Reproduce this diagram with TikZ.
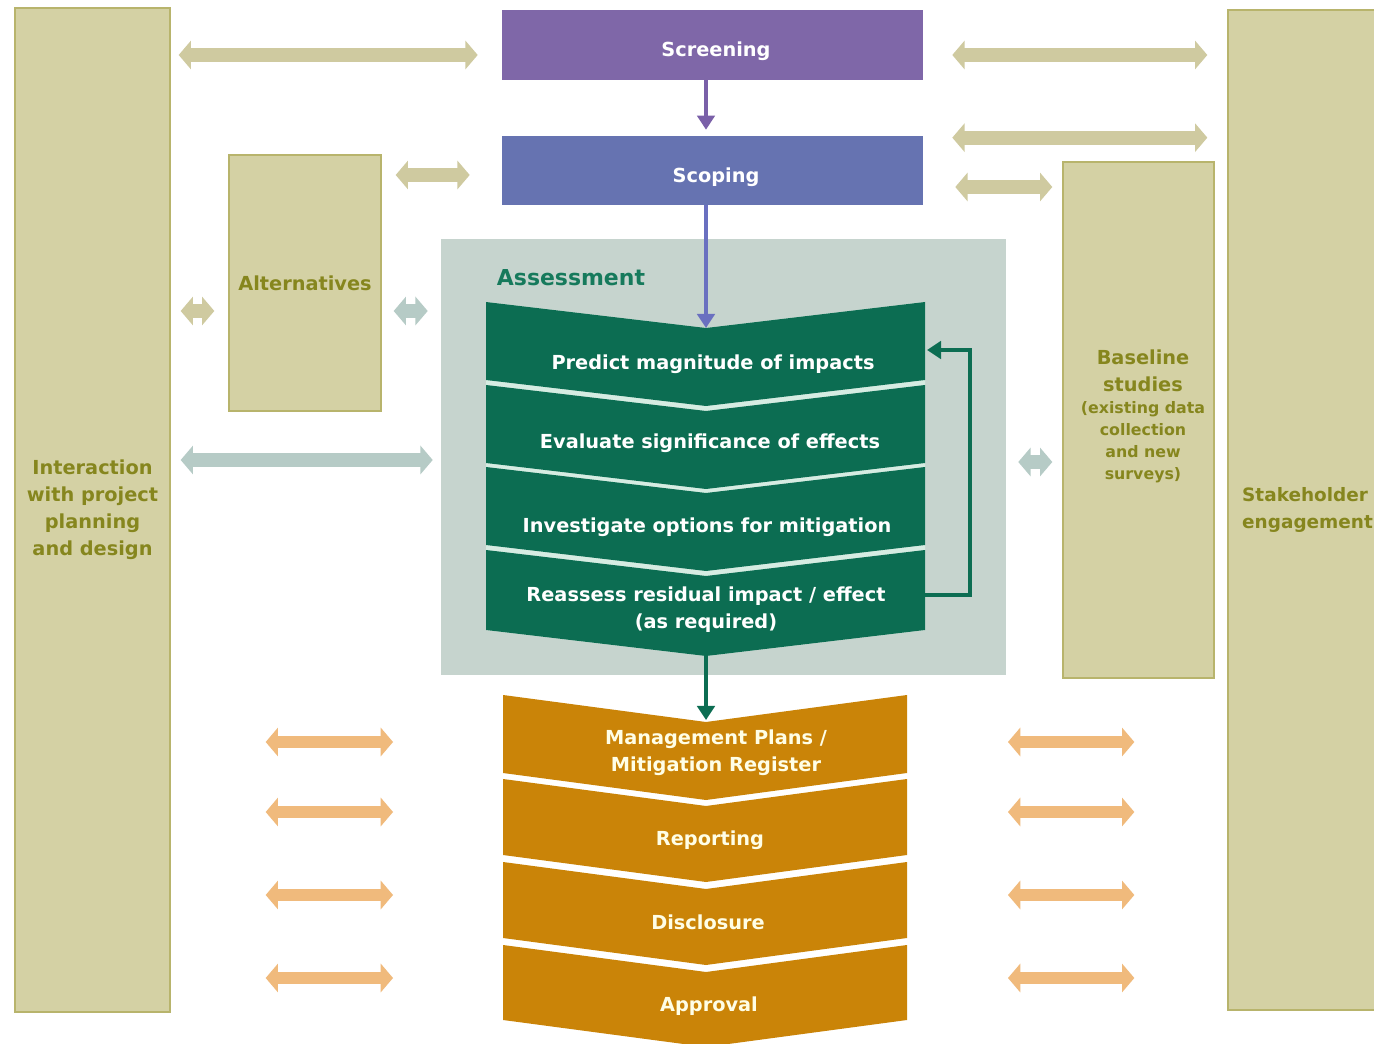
\documentclass[tikz,border=0pt]{standalone}
\usepackage{fontspec}
\setmainfont{DejaVu Sans}
\usetikzlibrary{arrows.meta, positioning}

\definecolor{boxfill}{HTML}{D4D1A4}
\definecolor{boxline}{HTML}{B8B46C}
\definecolor{olivetxt}{HTML}{86861E}
\definecolor{khaki}{HTML}{CFCAA0}
\definecolor{greyblue}{HTML}{B6CBC6}
\definecolor{asmfill}{HTML}{C6D4CE}
\definecolor{asmgreen}{HTML}{0C6D52}
\definecolor{asmsep}{HTML}{D6ECE2}
\definecolor{asmtitle}{HTML}{167A5C}
\definecolor{ochre}{HTML}{CA8408}
\definecolor{peach}{HTML}{F0BA7C}
\definecolor{scrpurple}{HTML}{7F67A8}
\definecolor{scpblue}{HTML}{6673B1}
\definecolor{arrpurple}{HTML}{7A60A8}
\definecolor{arrblue}{HTML}{6A70C0}

\begin{document}
\begin{tikzpicture}[x=0.02cm, y=-0.02cm, align=center,
  lbl/.style={font=\fontsize{11}{15.3}\selectfont\bfseries},
  col/.style={draw=boxline, fill=boxfill, line width=0.8pt, inner sep=0pt, text=olivetxt, lbl},
  stage/.style={inner sep=0pt, text=white, lbl},
  dbl/.style={line width=8pt, {Triangle[width=16pt,length=7pt]}-{Triangle[width=16pt,length=7pt]}},
  khk/.style={dbl, draw=khaki},
  gry/.style={dbl, draw=greyblue},
  org/.style={dbl, draw=peach, line width=7pt, shorten <=1.9cm, shorten >=2.2cm},
  orgr/.style={dbl, draw=peach, line width=7pt, shorten <=2.02cm, shorten >=1.86cm},
  thin/.style={line width=1.8pt, -{Triangle[width=10pt,length=8pt]}}]

\clip (0,0) rectangle (1374,1044);
\fill[white] (0,0) rectangle (1374,1044);

\path (92.5,510) node[col, minimum width=3.1cm, minimum height=20.08cm] (inter) {Interaction\\with project\\planning\\and design}
      (1324,510) node[col, minimum width=3.84cm, minimum height=20cm] (stake) {}
      (1236,510) node[anchor=west, align=left, text=olivetxt, font=\fontsize{10.5}{15.3}\selectfont\bfseries] (stakelbl) {Stakeholder\\engagement};

\path (712.5,45) node[fill=scrpurple, inner sep=0pt, minimum width=8.42cm, minimum height=1.4cm] (scr) {}
      (712.5,170.5) node[fill=scpblue, inner sep=0pt, minimum width=8.42cm, minimum height=1.38cm] (scp) {}
      (716,51) node[stage] (scrlbl) {Screening}
      (716,177) node[stage] (scplbl) {Scoping};

\path (305,283) node[col, minimum width=3.04cm, minimum height=5.12cm] (alt) {Alternatives}
      (1138.5,420) node[col, minimum width=3.02cm, minimum height=10.32cm] (base) {}
      (1143,371) node[text=olivetxt, lbl] (basettl) {Baseline\\studies}
      (1143,442) node[text=olivetxt, font=\fontsize{9}{12.5}\selectfont\bfseries] (basesub) {(existing data\\collection\\and new\\surveys)};

\path (723.5,457) node[fill=asmfill, inner sep=0pt, minimum width=11.3cm, minimum height=8.72cm] (asm) {}
      (571,278) node[text=asmtitle, font=\fontsize{12.5}{15}\selectfont\bfseries] (asmttl) {Assessment};

\fill[asmsep] (486,302) -- (706,328) -- (925,302) -- (925,630) -- (706,656) -- (486,630) -- cycle;
\fill[asmgreen] (486,302) -- (706,328) -- (925,302) -- (925,380) -- (706,406) -- (486,380) -- cycle;
\fill[asmgreen] (486,385) -- (706,411) -- (925,385) -- (925,463) -- (706,489) -- (486,463) -- cycle;
\fill[asmgreen] (486,467) -- (706,493) -- (925,467) -- (925,545) -- (706,571) -- (486,545) -- cycle;
\fill[asmgreen] (486,550) -- (706,576) -- (925,550) -- (925,630) -- (706,656) -- (486,630) -- cycle;

\path (713,364) node[stage] (pred) {Predict magnitude of impacts}
      (710,443) node[stage] (eval) {Evaluate significance of effects}
      (707,527) node[stage] (inv) {Investigate options for mitigation}
      (706,610) node[stage] (reas) {Reassess residual impact / effect\\(as required)};

\fill[ochre] (503,695) -- (706,722) -- (907,695) -- (907,773) -- (706,800) -- (503,773) -- cycle;
\fill[ochre] (503,779) -- (706,806) -- (907,779) -- (907,855) -- (706,882) -- (503,855) -- cycle;
\fill[ochre] (503,862) -- (706,889) -- (907,862) -- (907,938) -- (706,965) -- (503,938) -- cycle;
\fill[ochre] (503,945) -- (706,972) -- (907,945) -- (907,1020) -- (706,1047) -- (503,1020) -- cycle;

\path (716,753) node[stage, text=white!90!yellow] (mgmt) {Management Plans /\\Mitigation Register}
      (710,840) node[stage, text=white!90!yellow] (rep) {Reporting}
      (708,922) node[stage, text=white!90!yellow] (disc) {Disclosure}
      (709,1006) node[stage, text=white!90!yellow] (appr) {Approval};

\coordinate (preddip) at (706,328);
\coordinate (reasdip) at (706,656);
\coordinate (mgmtdip) at (706,720);
\coordinate (reasR) at (925,595);
\coordinate (predR) at (927,350);

\draw[thin, draw=arrpurple, shorten >=0.12cm] (scr.south -| preddip) -- (scp.north -| preddip);
\draw[thin, draw=arrblue] (scp.south -| preddip) -- (preddip);
\draw[thin, draw=asmgreen] (reasdip) -- (mgmtdip);
\draw[thin, draw=asmgreen] (reasR) -- ++(45,0) |- (predR);

\coordinate (scrW) at ([yshift=-0.2cm]scr.west);
\coordinate (scrE) at ([yshift=-0.2cm]scr.east);
\coordinate (scpNE) at ([yshift=-0.04cm]scp.north east);
\coordinate (scpW) at ([yshift=-0.09cm]scp.west);
\coordinate (scpE) at ([yshift=-0.33cm]scp.east);
\coordinate (altW) at ([yshift=-0.56cm]alt.west);
\coordinate (altE) at ([yshift=-0.56cm]alt.east);
\coordinate (asmW) at ([yshift=-0.06cm]asm.west);
\coordinate (asmE) at ([yshift=-0.1cm]asm.east);

\draw[khk, shorten <=0.16cm, shorten >=0.48cm] (scrW -| inter.east) -- (scrW);
\draw[khk, shorten <=0.58cm, shorten >=0.4cm] (scrE) -- (scrE -| stake.west);
\draw[khk, shorten <=0.58cm, shorten >=0.4cm] (scpNE) -- (scpNE -| stake.west);
\draw[khk, shorten <=0.28cm, shorten >=0.64cm] (alt.east |- scpW) -- (scpW);
\draw[khk, shorten <=0.64cm, shorten >=0.2cm] (scpE) -- (scpE -| base.west);
\draw[khk, shorten <=0.2cm, shorten >=0.28cm] (altW -| inter.east) -- (altW);
\draw[gry, shorten <=0.24cm, shorten >=0.26cm] (altE) -- (altE -| asm.west);
\draw[gry, shorten <=0.2cm, shorten >=0.16cm] (asmW -| inter.east) -- (asmW);
\draw[gry, shorten <=0.24cm, shorten >=0.2cm] (asmE) -- (asmE -| base.west);

\path (503,742) coordinate (o1L) (907,742) coordinate (o1R)
      (503,812) coordinate (o2L) (907,812) coordinate (o2R)
      (503,895) coordinate (o3L) (907,895) coordinate (o3R)
      (503,978) coordinate (o4L) (907,978) coordinate (o4R);

\draw[org] (o1L -| inter.east) -- (o1L);
\draw[org] (o2L -| inter.east) -- (o2L);
\draw[org] (o3L -| inter.east) -- (o3L);
\draw[org] (o4L -| inter.east) -- (o4L);
\draw[orgr] (o1R) -- (o1R -| stake.west);
\draw[orgr] (o2R) -- (o2R -| stake.west);
\draw[orgr] (o3R) -- (o3R -| stake.west);
\draw[orgr] (o4R) -- (o4R -| stake.west);
\end{tikzpicture}
\end{document}
